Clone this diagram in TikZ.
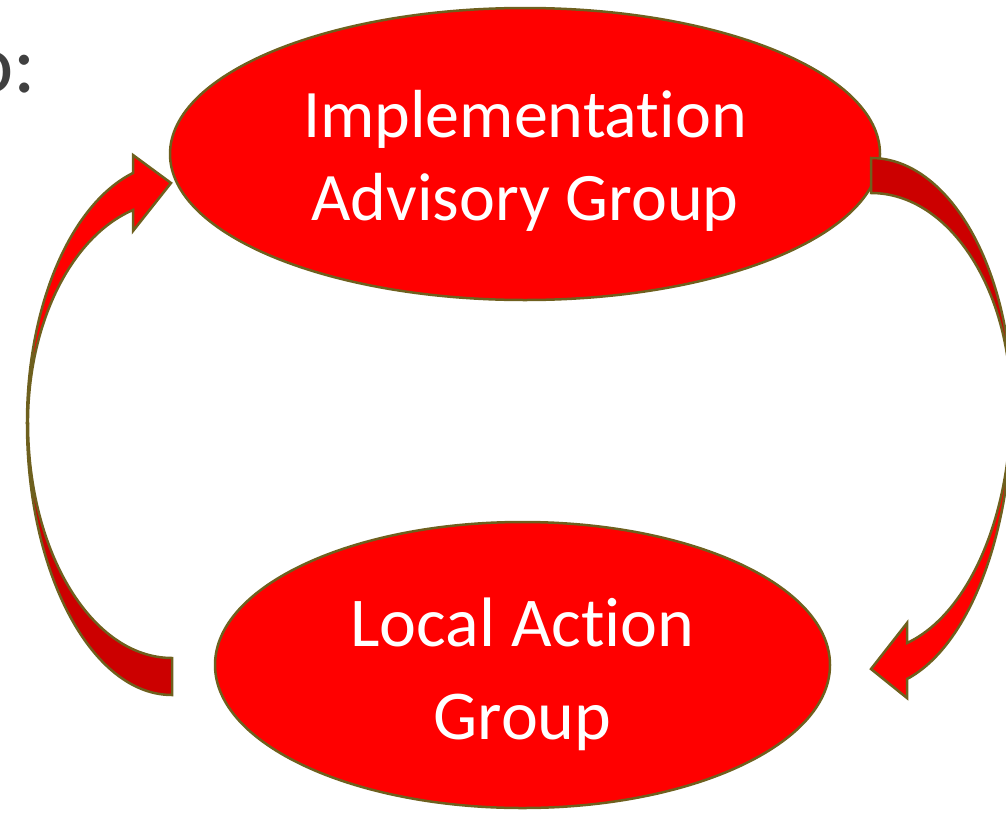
\documentclass[tikz,border=0pt]{standalone}
\usepackage{fontspec}
\setmainfont{Carlito}[Ligatures=NoCommon]
\usetikzlibrary{positioning,shapes.geometric}
\definecolor{boxred}{RGB}{255,0,0}
\definecolor{backred}{RGB}{204,0,0}
\definecolor{rim}{RGB}{110,96,30}
\definecolor{heading}{RGB}{64,64,64}

\begin{document}
\begin{tikzpicture}[x=1pt,y=-1pt,
		group/.style={ellipse,draw=rim,line width=2.5pt,fill=boxred,inner sep=0pt},
		caption/.style={text=white,align=center,inner sep=0pt},
		front/.style={draw=rim,line width=2.5pt,fill=boxred},
		back/.style={draw=rim,line width=2.5pt,fill=backred}]
	\useasboundingbox (0,0) rectangle (1006,814);
	\node (TITLE) [anchor=base east,text=heading,font=\fontsize{84}{100}\selectfont] at (40,92) {o:};
	\node (IAG) [group,minimum width=710pt,minimum height=292pt] at (525,154) {};
	\node (LAG) [group,minimum width=615pt,minimum height=286pt] at (522.5,665) {};
	\node (IAGTEXT) [caption,font=\fontsize{68}{83}\selectfont] at ([yshift=-7pt]IAG.center) {Implementation\\Advisory Group};
	\node (LAGTEXT) [caption,font=\fontsize{70}{93}\selectfont] at ([yshift=-9pt]LAG.center) {Local Action\\Group};

	% left arrow: from LAG up into IAG
	\draw[back] (27,423) arc[start angle=180,end angle=90,x radius=145,y radius=272]
		-- (172,658) arc[start angle=90,end angle=180,x radius=144,y radius=235] -- cycle;
	\draw[front] (27,423) arc[start angle=180,end angle=254.4,x radius=145,y radius=259.6]
		-- (133,155) -- (171,183) -- (133,231) -- (133,210)
		arc[start angle=254.3,end angle=180,x radius=144,y radius=221.3] -- cycle;

	% right arrow: from IAG down into LAG
	\draw[back] (871,158) arc[start angle=270,end angle=360,x radius=141,y radius=247]
		-- (1011,405) arc[start angle=360,end angle=270,x radius=140,y radius=212] -- cycle;
	\draw[front] (1012,405) arc[start angle=0,end angle=75.21,x radius=141,y radius=283.4]
		-- (907,698) -- (871,669) -- (907,623) -- (907,643)
		arc[start angle=75.1,end angle=0,x radius=140,y radius=246.3] -- cycle;
\end{tikzpicture}
\end{document}
